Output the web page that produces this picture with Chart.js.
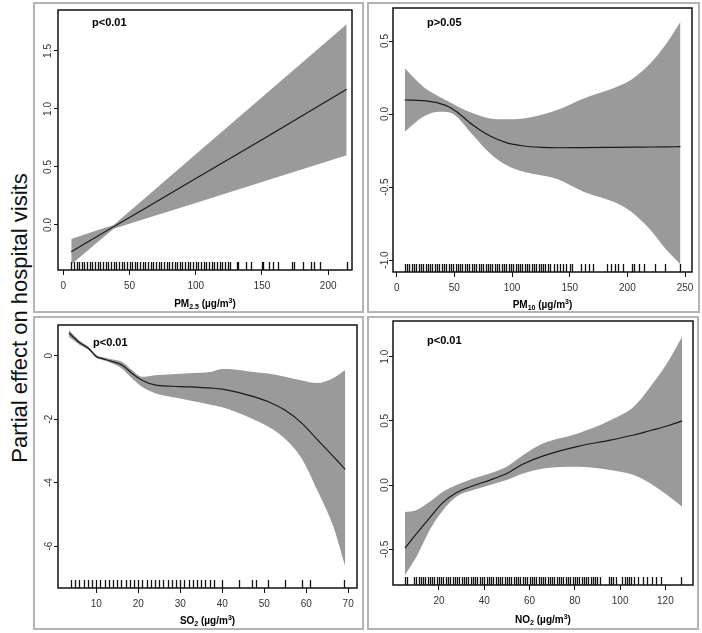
<!DOCTYPE html>
<html>
<head>
<meta charset="utf-8">
<script src="https://cdn.jsdelivr.net/npm/chart.js@4.4.0/dist/chart.umd.min.js"></script>
<style>
  body { margin: 0; background: #fff; width: 702px; height: 633px; position: relative; overflow: hidden;
         font-family: "Liberation Sans", Arial, sans-serif; }
  canvas { position: absolute; }
  #ylab { position: absolute; left: 20px; top: 318px; transform: translate(-50%, -50%) rotate(-90deg);
          white-space: nowrap; font-size: 22px; color: #111; }
</style>
</head>
<body>
<div id="ylab">Partial effect on hospital visits</div>
<canvas id="c1" width="331" height="311" style="left:33px;top:2px"></canvas>
<canvas id="c2" width="333" height="311" style="left:367px;top:2px"></canvas>
<canvas id="c3" width="331" height="314" style="left:33px;top:316px"></canvas>
<canvas id="c4" width="332" height="314" style="left:367px;top:316px"></canvas>
<script>
// PM2.5 panel
const pm25X = [6, 20, 38, 60, 100, 150, 214];
const pm25Fit = [-0.23, -0.136, -0.016, 0.132, 0.40, 0.735, 1.17];
const pm25Upper = [-0.12, -0.067, 0.0, 0.215, 0.61, 1.10, 1.73];
const pm25Lower = [-0.34, -0.205, -0.032, 0.047, 0.19, 0.37, 0.60];
const pm25Rug = [6, 8, 10, 12, 14, 16, 18, 20, 22, 24, 26, 28, 30, 32, 34, 36, 38, 40, 42, 44, 46, 48, 50,
  52, 54, 56, 58, 60, 62, 64, 66, 68, 70, 72, 74, 76, 78, 80, 82, 84, 86, 88, 90, 92, 94, 96, 98, 100,
  102, 104, 106, 108, 110, 112, 114, 116, 118, 120, 122, 124, 126, 131, 132, 138, 142, 150, 151, 155,
  158, 162, 173, 174, 181, 187, 189, 194, 214];
const pm25XTicks = [0, 50, 100, 150, 200];
const pm25YTicks = [0, 0.5, 1.0, 1.5];
const pm25YLabels = ['0.0', '0.5', '1.0', '1.5'];

// PM10 panel
const pm10X = [7, 23, 37, 45, 52, 66, 81, 95, 110, 125, 139, 162, 191, 205, 220, 234, 246];
const pm10Fit = [0.096, 0.091, 0.073, 0.05, 0.016, -0.075, -0.151, -0.196, -0.219, -0.228, -0.231, -0.23,
  -0.228, -0.227, -0.226, -0.225, -0.224];
const pm10Upper = [0.313, 0.187, 0.118, 0.085, 0.055, 0.005, -0.03, -0.036, -0.03, -0.007, 0.027, 0.107,
  0.187, 0.244, 0.347, 0.484, 0.632];
const pm10Lower = [-0.121, -0.018, 0.016, 0.012, -0.018, -0.144, -0.27, -0.349, -0.395, -0.42, -0.445,
  -0.532, -0.612, -0.68, -0.795, -0.932, -1.03];
const pm10Rug = [7, 9, 11, 13, 15, 17, 19, 21, 23, 25, 27, 29, 31, 33, 35, 37, 39, 41, 43, 45, 47, 49, 51,
  53, 55, 57, 59, 61, 63, 65, 67, 69, 71, 73, 75, 77, 79, 81, 83, 85, 87, 89, 91, 93, 95, 97, 99, 101,
  103, 105, 107, 109, 111, 113, 115, 117, 119, 121, 123, 125, 127, 129, 131, 133, 136, 139, 142, 144,
  147, 150, 152, 160, 163, 167, 170, 182, 186, 189, 192, 196, 204, 206, 210, 214, 224, 233, 246];
const pm10XTicks = [0, 50, 100, 150, 200, 250];
const pm10YTicks = [-1.0, -0.5, 0.0, 0.5];
const pm10YLabels = ['-1.0', '-0.5', '0.0', '0.5'];

// SO2 panel
const so2X = [3.5, 6, 8.2, 10, 11.5, 13.3, 16.1, 18.5, 20.9, 24, 28, 32, 37.5, 40, 43, 47, 51, 55, 59,
  62.5, 66.5, 69.3];
const so2Fit = [0.72, 0.42, 0.23, -0.02, -0.09, -0.16, -0.29, -0.55, -0.77, -0.92, -0.96, -0.98, -1.02,
  -1.05, -1.13, -1.27, -1.45, -1.72, -2.13, -2.62, -3.18, -3.58];
const so2Upper = [0.81, 0.48, 0.28, 0.03, -0.05, -0.10, -0.19, -0.45, -0.66, -0.61, -0.58, -0.55, -0.50,
  -0.42, -0.43, -0.50, -0.56, -0.66, -0.78, -0.86, -0.70, -0.45];
const so2Lower = [0.60, 0.35, 0.18, -0.07, -0.13, -0.21, -0.40, -0.71, -0.98, -1.18, -1.30, -1.40, -1.55,
  -1.62, -1.76, -1.98, -2.24, -2.62, -3.25, -4.2, -5.4, -6.65];
const so2Rug = [4, 5, 6, 7, 8, 9, 10, 11, 12, 13, 14, 15, 16, 17, 18, 19, 20, 21, 22, 23, 24, 25, 26, 27,
  28, 29, 30, 31, 32, 33, 34, 35, 36, 37, 38, 40, 44, 47, 48, 51, 55, 59, 61, 69];
const so2XTicks = [10, 20, 30, 40, 50, 60, 70];
const so2YTicks = [-6, -4, -2, 0];
const so2YLabels = ['-6', '-4', '-2', '0'];

// NO2 panel
const no2X = [5, 10, 15.9, 21.8, 27.7, 35.1, 42.5, 49.9, 57.2, 66.1, 80.9, 95.7, 106, 113.4, 120.8, 127.4];
const no2Fit = [-0.49, -0.38, -0.255, -0.135, -0.06, -0.005, 0.039, 0.091, 0.165, 0.228, 0.30, 0.35, 0.39,
  0.425, 0.46, 0.50];
const no2Upper = [-0.21, -0.195, -0.13, -0.052, 0.0, 0.052, 0.091, 0.143, 0.234, 0.325, 0.40, 0.506, 0.61,
  0.766, 0.95, 1.155];
const no2Lower = [-0.70, -0.56, -0.35, -0.195, -0.091, -0.039, 0.0, 0.039, 0.09, 0.13, 0.143, 0.117, 0.078,
  0.013, -0.078, -0.169];
const no2Rug = [5, 6, 9, 10, 11, 12, 13, 14, 15, 16, 17, 18, 19, 20, 21, 22, 23, 24, 25, 26, 27, 28, 29, 30,
  31, 32, 33, 34, 35, 36, 37, 38, 39, 40, 41, 42, 43, 44, 45, 46, 47, 48, 49, 50, 51, 52, 53, 54, 55, 56,
  57, 58, 59, 60, 61, 62, 63, 64, 65, 66, 67, 68, 69, 70, 71, 72, 73, 74, 75, 76, 77, 78, 79, 80, 81, 82,
  83, 84, 85, 86, 87, 88, 89, 90, 91, 95, 96, 97, 98, 101, 102, 103, 104, 105, 106, 108, 110, 112, 114,
  116, 118, 127];
const no2XTicks = [20, 40, 60, 80, 100, 120];
const no2YTicks = [-0.5, 0.0, 0.5, 1.0];
const no2YLabels = ['-0.5', '0.0', '0.5', '1.0'];

const FONT = '"Liberation Sans", Arial, sans-serif';
const BAND = '#9a9a9a';

function zip(xs, ys) {
  return xs.map((x, i) => ({ x: x, y: ys[i] }));
}

// draws a label made of normal / sub / sup parts, centred on cx
function drawRich(ctx, parts, cx, cy) {
  let total = 0;
  parts.forEach(pt => {
    ctx.font = 'bold ' + (pt[1] ? 7 : 10) + 'px ' + FONT;
    pt.w = ctx.measureText(pt[0]).width;
    total += pt.w;
  });
  let x = cx - total / 2;
  ctx.textAlign = 'left';
  ctx.textBaseline = 'middle';
  parts.forEach(pt => {
    ctx.font = 'bold ' + (pt[1] ? 7 : 10) + 'px ' + FONT;
    const dy = pt[1] === 'sub' ? 3 : pt[1] === 'sup' ? -3 : 0;
    ctx.fillText(pt[0], x, cy + dy);
    x += pt.w;
  });
}

function makeDeco(p) {
  return {
    id: 'deco',
    afterDatasetsDraw(chart) {
      const ctx = chart.ctx;
      const a = chart.chartArea;
      const xs = chart.scales.x;
      ctx.save();
      // rug
      ctx.strokeStyle = '#111';
      ctx.lineWidth = 1.3;
      ctx.beginPath();
      p.rug.forEach(v => {
        const x = Math.round(xs.getPixelForValue(v)) + 0.5;
        ctx.moveTo(x, a.bottom);
        ctx.lineTo(x, a.bottom - 8);
      });
      ctx.stroke();
      ctx.restore();
    },
    afterDraw(chart) {
      const ctx = chart.ctx;
      const a = chart.chartArea;
      const ys = chart.scales.y;
      ctx.save();
      // outer frame
      ctx.strokeStyle = '#b4b4b4';
      ctx.lineWidth = 2;
      ctx.strokeRect(1, 1, chart.width - 2, chart.height - 2);
      // plot box
      ctx.strokeStyle = '#111';
      ctx.lineWidth = 1.5;
      ctx.strokeRect(a.left, a.top, a.right - a.left, a.bottom - a.top);
      // rotated y labels
      ctx.fillStyle = '#333';
      ctx.font = '10px ' + FONT;
      ctx.textAlign = 'center';
      ctx.textBaseline = 'middle';
      p.yTicks.forEach((v, i) => {
        ctx.save();
        ctx.translate(a.left - p.yLabOff, ys.getPixelForValue(v));
        ctx.rotate(-Math.PI / 2);
        ctx.fillText(p.yLabels[i], 0, 0);
        ctx.restore();
      });
      // p value
      ctx.fillStyle = '#000';
      ctx.font = 'bold 11px ' + FONT;
      ctx.textAlign = 'left';
      ctx.fillText(p.pText, a.left + p.pPos[0], a.top + p.pPos[1]);
      // axis title
      drawRich(ctx, p.title, (a.left + a.right) / 2, a.bottom + p.titleOff);
      ctx.restore();
    }
  };
}

function makePanel(id, p) {
  const curve = p.linear ? {} : { cubicInterpolationMode: 'monotone' };
  return new Chart(document.getElementById(id), {
    type: 'line',
    data: {
      datasets: [
        // fitted line on top (lowest order is drawn last)
        Object.assign({ data: zip(p.x, p.fit), borderColor: '#1a1a1a', borderWidth: 1.2, pointRadius: 0,
          fill: false, order: 0 }, curve),
        Object.assign({ data: zip(p.x, p.upper), borderWidth: 0, pointRadius: 0,
          backgroundColor: BAND, fill: '+1', order: 1 }, curve),
        Object.assign({ data: zip(p.x, p.lower), borderWidth: 0, pointRadius: 0, fill: false, order: 1 }, curve)
      ]
    },
    options: {
      responsive: false,
      animation: false,
      events: [],
      layout: { padding: { left: 0, top: p.padTop, right: p.padRight, bottom: 0 } },
      plugins: { legend: { display: false }, tooltip: { enabled: false } },
      scales: {
        x: {
          type: 'linear', min: p.xMin, max: p.xMax,
          afterBuildTicks: s => { s.ticks = p.xTicks.map(v => ({ value: v })); },
          afterFit: s => { s.height = p.xAxisH; },
          grid: { drawOnChartArea: false, tickLength: 5, color: '#111', lineWidth: 1 },
          border: { display: false },
          ticks: { padding: 5, color: '#333', font: { family: FONT, size: 10 }, maxRotation: 0,
            callback: v => String(v) }
        },
        y: {
          min: p.yMin, max: p.yMax,
          afterBuildTicks: s => { s.ticks = p.yTicks.map(v => ({ value: v })); },
          afterFit: s => { s.width = p.yAxisW; },
          grid: { drawOnChartArea: false, tickLength: 4, color: '#111', lineWidth: 1 },
          border: { display: false },
          ticks: { display: false }
        }
      }
    },
    plugins: [makeDeco(p)]
  });
}

makePanel('c1', {
  x: pm25X, fit: pm25Fit, upper: pm25Upper, lower: pm25Lower, rug: pm25Rug, linear: true,
  xTicks: pm25XTicks, yTicks: pm25YTicks, yLabels: pm25YLabels,
  xMin: -4, xMax: 218, yMin: -0.388, yMax: 1.853,
  padTop: 8, padRight: 12, yAxisW: 25, xAxisH: 43, yLabOff: 9.5, titleOff: 34,
  pText: 'p<0.01', pPos: [34, 13],
  title: [['PM'], ['2.5', 'sub'], [' (\u00b5g/m'], ['3', 'sup'], [')']]
});

makePanel('c2', {
  x: pm10X, fit: pm10Fit, upper: pm10Upper, lower: pm10Lower, rug: pm10Rug,
  xTicks: pm10XTicks, yTicks: pm10YTicks, yLabels: pm10YLabels,
  xMin: -3.2, xMax: 256, yMin: -1.082, yMax: 0.726,
  padTop: 6, padRight: 8, yAxisW: 26, xAxisH: 41, yLabOff: 8, titleOff: 33,
  pText: 'p>0.05', pPos: [34, 15],
  title: [['PM'], ['10', 'sub'], [' (\u00b5g/m'], ['3', 'sup'], [')']]
});

makePanel('c3', {
  x: so2X, fit: so2Fit, upper: so2Upper, lower: so2Lower, rug: so2Rug,
  xTicks: so2XTicks, yTicks: so2YTicks, yLabels: so2YLabels,
  xMin: 0.9, xMax: 72.1, yMin: -7.32, yMax: 0.97,
  padTop: 9, padRight: 7, yAxisW: 25, xAxisH: 42, yLabOff: 9.2, titleOff: 33,
  pText: 'p<0.01', pPos: [35, 18],
  title: [['SO'], ['2', 'sub'], [' (\u00b5g/m'], ['3', 'sup'], [')']]
});

makePanel('c4', {
  x: no2X, fit: no2Fit, upper: no2Upper, lower: no2Lower, rug: no2Rug,
  xTicks: no2XTicks, yTicks: no2YTicks, yLabels: no2YLabels,
  xMin: -0.3, xMax: 132.2, yMin: -0.778, yMax: 1.278,
  padTop: 5, padRight: 6, yAxisW: 26, xAxisH: 45, yLabOff: 8, titleOff: 35,
  pText: 'p<0.01', pPos: [34, 20],
  title: [['NO'], ['2', 'sub'], [' (\u00b5g/m'], ['3', 'sup'], [')']]
});
</script>
</body>
</html>
